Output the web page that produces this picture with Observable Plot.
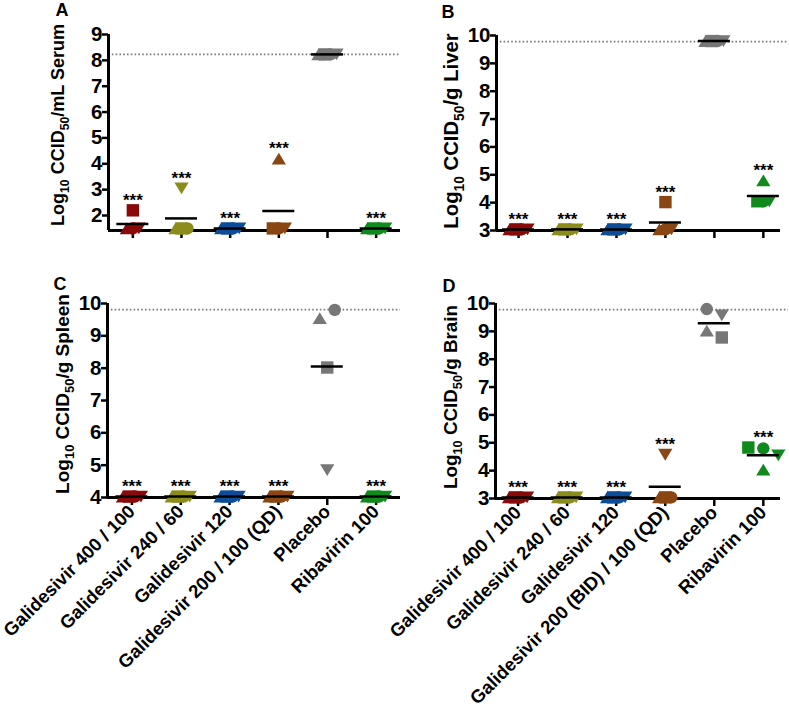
<!DOCTYPE html>
<html>
<head>
<meta charset="utf-8">
<script src="https://cdn.jsdelivr.net/npm/d3@7"></script>
<script src="https://cdn.jsdelivr.net/npm/@observablehq/plot@0.6"></script>
<style>
  html, body { margin: 0; padding: 0; background: #fff; }
  #fig { position: relative; width: 789px; height: 716px; background: #fff; overflow: hidden; }
  .panel { position: absolute; }
</style>
</head>
<body>
<div id="fig"></div>
<script>
// ---------------- DATA ----------------
const groupsABC = ["Galidesivir 400 / 100", "Galidesivir 240 / 60", "Galidesivir 120", "Galidesivir 200 / 100 (QD)", "Placebo", "Ribavirin 100"];
const groupsD = ["Galidesivir 400 / 100", "Galidesivir 240 / 60", "Galidesivir 120", "Galidesivir 200 (BID) / 100 (QD)", "Placebo", "Ribavirin 100"];
const groupColors = ["#8a0a0a", "#8c8c1c", "#0c4c98", "#8a4612", "#777777", "#108a1c"];
// one value per animal, in this shape order
const animalShapes = ["square", "triangle", "invtriangle", "circle"];
const serumValues = [
  [2.2, 1.5, 1.5, 1.5],
  [1.5, 1.5, 3.05, 1.5],
  [1.5, 1.5, 1.5, 1.5],
  [1.5, 4.2, 1.5, 1.5],
  [8.23, 8.23, 8.23, 8.23],
  [1.5, 1.5, 1.5, 1.5]
];
const liverValues = [
  [3.04, 3.04, 3.04, 3.04],
  [3.04, 3.04, 3.04, 3.04],
  [3.04, 3.04, 3.04, 3.04],
  [4.02, 3.04, 3.04, 3.04],
  [9.8, 9.8, 9.8, 9.8],
  [4.05, 4.8, 4.05, 4.05]
];
const spleenValues = [
  [4.03, 4.03, 4.03, 4.03],
  [4.03, 4.03, 4.03, 4.03],
  [4.03, 4.03, 4.03, 4.03],
  [4.03, 4.03, 4.03, 4.03],
  [8.02, 9.55, 4.85, 9.8],
  [4.03, 4.03, 4.03, 4.03]
];
const brainValues = [
  [3.04, 3.04, 3.04, 3.04],
  [3.04, 3.04, 3.04, 3.04],
  [3.04, 3.04, 3.04, 3.04],
  [3.04, 3.04, 4.57, 3.04],
  [8.78, 9.03, 9.57, 9.8],
  [4.83, 4.04, 4.55, 4.8]
];
const significant = [true, true, true, true, false, true];
const serumTicks = [2, 3, 4, 5, 6, 7, 8, 9];
const liverTicks = [3, 4, 5, 6, 7, 8, 9, 10];
const spleenTicks = [4, 5, 6, 7, 8, 9, 10];
const brainTicks = [3, 4, 5, 6, 7, 8, 9, 10];
const serumLimit = 8.23, liverLimit = 9.78, spleenLimit = 9.81, brainLimit = 9.78;

// ---------------- LAYOUT ----------------
const FONT = "'Liberation Sans', Arial, Helvetica, sans-serif";
const clusterOrder = ["triangle", "square", "circle", "invtriangle"];

function shapeSymbol(kind) {
  return {
    draw(ctx, size) {
      const r = Math.sqrt(size / Math.PI);
      if (kind === "square") { ctx.rect(-r, -r, 2 * r, 2 * r); }
      else if (kind === "circle") { ctx.moveTo(r, 0); ctx.arc(0, 0, r, 0, 2 * Math.PI); }
      else {
        const w = 1.15 * r, h = 1.9 * r, s = kind === "triangle" ? 1 : -1;
        ctx.moveTo(0, -s * h / 2); ctx.lineTo(w, s * h / 2); ctx.lineTo(-w, s * h / 2); ctx.closePath();
      }
    }
  };
}

function layoutPoints(values, stepPx) {
  const pts = [];
  values.forEach((vals, g) => {
    const items = vals.map((v, k) => ({g, shape: animalShapes[k], value: v}));
    const sorted = items.slice().sort((a, b) => b.value - a.value);
    const clusters = [];
    for (const p of sorted) {
      const last = clusters[clusters.length - 1];
      if (last && last[last.length - 1].value - p.value < 0.3) last.push(p); else clusters.push([p]);
    }
    for (const c of clusters) {
      c.sort((a, b) => clusterOrder.indexOf(a.shape) - clusterOrder.indexOf(b.shape));
      const spread = d3.max(c, d => d.value) - d3.min(c, d => d.value);
      const sp = spread < 0.12 ? 6 : 15;
      c.forEach((p, i) => { p.x = g + (i - (c.length - 1) / 2) * sp / stepPx; pts.push(p); });
    }
  });
  return pts;
}

function panel(cfg) {
  const xDomain = cfg.xDomain;
  const stepPx = (cfg.width - cfg.marginLeft - cfg.marginRight) / (xDomain[1] - xDomain[0]);
  const pts = layoutPoints(cfg.values, stepPx);
  const means = cfg.values.map((vals, g) => ({g, mean: d3.mean(vals)}));
  const stars = cfg.values.map((vals, g) => ({g, top: d3.max(vals)})).filter(d => significant[d.g]);
  const hw = 16 / stepPx;
  const refRight = xDomain[1] + cfg.refExtra / stepPx;

  const dotMarks = animalShapes.map(shape => Plot.dot(pts.filter(p => p.shape === shape), {
    x: "x", y: "value", fill: "g", r: 6.2, symbol: shapeSymbol(shape), stroke: "none"
  }));

  const plot = Plot.plot({
    width: cfg.width, height: cfg.height,
    marginLeft: cfg.marginLeft, marginRight: cfg.marginRight, marginTop: cfg.marginTop, marginBottom: cfg.marginBottom,
    style: {fontFamily: FONT, overflow: "visible", background: "transparent"},
    x: {type: "linear", domain: xDomain, axis: null},
    y: {domain: cfg.yDomain, axis: null},
    color: {type: "ordinal", domain: d3.range(6), range: groupColors},
    marks: [
      Plot.ruleY([cfg.limit], {x1: xDomain[0], x2: refRight, stroke: "#7a7a7a", strokeWidth: 1.6, strokeDasharray: "1.6,2.2"}),
      Plot.axisY({ticks: cfg.yTicks, tickSize: 6, tickPadding: 0, fontSize: 20.5, fontWeight: "bold", strokeWidth: 2.5, label: null, tickFormat: d => String(d), fill: "black", stroke: "black"}),
      Plot.axisX({ticks: d3.range(6), tickSize: 8, tickPadding: 3, strokeWidth: 2.5, label: null, anchor: "bottom",
        tickRotate: cfg.labels ? -45 : 0, fontSize: 18.5, fontWeight: "bold", fill: "black", stroke: "black",
        tickFormat: cfg.labels ? (i => cfg.labels[i]) : (() => "")}),
      Plot.ruleX([xDomain[0]], {strokeWidth: 3, stroke: "black"}),
      Plot.ruleY([cfg.yDomain[0]], {strokeWidth: 3, stroke: "black"}),
      ...dotMarks,
      Plot.ruleY(means, {y: "mean", x1: d => d.g - hw, x2: d => d.g + hw, stroke: "black", strokeWidth: 2.5}),
      Plot.text(stars, {x: "g", y: "top", text: () => "***", fontSize: 17, fontWeight: "bold", lineAnchor: "middle", dy: -10, fill: "black"})
    ]
  });

  // y-axis title with subscripts and panel letter
  const svg = d3.select(plot);
  const fs = cfg.titleSize;
  const t = svg.append("text")
    .attr("transform", `translate(${cfg.titleX},${cfg.titleY}) rotate(-90)`)
    .attr("text-anchor", "middle").attr("font-family", FONT).attr("font-weight", "bold")
    .attr("font-size", fs).attr("fill", "black");
  t.append("tspan").text("Log");
  t.append("tspan").attr("font-size", fs * 0.68).attr("dy", fs * 0.28).text("10");
  t.append("tspan").attr("dy", -fs * 0.28).text(" CCID");
  t.append("tspan").attr("font-size", fs * 0.68).attr("dy", fs * 0.28).text("50");
  t.append("tspan").attr("dy", -fs * 0.28).text(cfg.unit);
  svg.append("text").attr("x", cfg.letterX).attr("y", cfg.letterY)
    .attr("text-anchor", "middle").attr("font-family", FONT).attr("font-weight", "bold")
    .attr("font-size", 18).attr("fill", "black").text(cfg.letter);

  const div = document.createElement("div");
  div.className = "panel";
  div.style.left = cfg.left + "px";
  div.style.top = cfg.top + "px";
  div.appendChild(plot);
  document.getElementById("fig").appendChild(div);
}

panel({letter: "A", left: 0, top: 0, width: 400, height: 245, marginLeft: 108, marginRight: 0, marginTop: 34, marginBottom: 15,
  xDomain: [-0.5, 5.5], yDomain: [1.42, 9], yTicks: serumTicks, values: serumValues, limit: serumLimit, refExtra: 0,
  labels: null, unit: "/mL Serum", titleSize: 18, titleX: 64, titleY: 125, letterX: 62, letterY: 16});
panel({letter: "B", left: 400, top: 0, width: 389, height: 245, marginLeft: 96, marginRight: 9, marginTop: 35, marginBottom: 15,
  xDomain: [-0.45, 5.35], yDomain: [3, 10], yTicks: liverTicks, values: liverValues, limit: liverLimit, refExtra: 8,
  labels: null, unit: "/g Liver", titleSize: 20.3, titleX: 58, titleY: 131, letterX: 48, letterY: 18});
panel({letter: "C", left: 0, top: 260, width: 400, height: 456, marginLeft: 107, marginRight: 0, marginTop: 43, marginBottom: 219,
  xDomain: [-0.5, 5.5], yDomain: [4, 10], yTicks: spleenTicks, values: spleenValues, limit: spleenLimit, refExtra: 0,
  labels: groupsABC, unit: "/g Spleen", titleSize: 19, titleX: 69, titleY: 134, letterX: 60, letterY: 30});
panel({letter: "D", left: 400, top: 260, width: 389, height: 456, marginLeft: 95, marginRight: 9, marginTop: 43, marginBottom: 218,
  xDomain: [-0.46, 5.35], yDomain: [3, 10], yTicks: brainTicks, values: brainValues, limit: brainLimit, refExtra: 8,
  labels: groupsD, unit: "/g Brain", titleSize: 18.8, titleX: 57, titleY: 137, letterX: 49, letterY: 32});
</script>
</body>
</html>
